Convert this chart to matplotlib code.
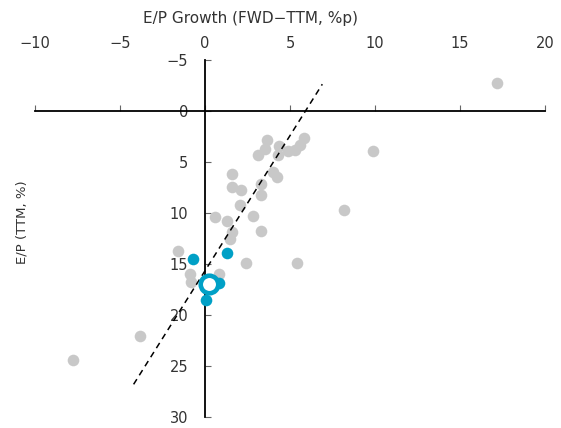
import matplotlib.pyplot as plt

# E/P growth (FWD - TTM, %p) vs trailing E/P (%)
gray_x = [17.2, 9.9, 8.2, 5.4, 2.4, 5.8, 5.6, 5.3, 4.9, 4.37, 4.3, 3.63, 3.53, 3.14,
          4.0, 4.25, 1.6, 1.6, 2.1, 3.3, 3.3, 2.06, 2.8, 0.6, 1.27, 1.6, 3.3, 1.47,
          -1.6, -0.9, -0.8, 0.8, -3.8, -7.75]
gray_y = [-2.7, 3.95, 9.7, 14.9, 14.9, 2.65, 3.4, 3.85, 3.95, 3.5, 4.3, 2.9, 3.7, 4.3,
          6.0, 6.5, 6.2, 7.5, 7.8, 7.2, 8.3, 9.2, 10.3, 10.4, 10.8, 11.9, 11.8, 12.6,
          13.7, 15.95, 16.8, 15.95, 22.05, 24.4]

blue_x = [-0.72, 1.3, 0.8, 0.06]
blue_y = [14.5, 13.9, 16.9, 18.5]

ring_x = [0.25]
ring_y = [17.0]

trend_x = [-4.2, 6.9]
trend_y = [26.8, -2.6]

x_ticks = [-10, -5, 0, 5, 10, 15, 20]
y_ticks = [-5, 0, 5, 10, 15, 20, 25, 30]

GRAY = '#C8C8C8'
BLUE = '#00A0C6'
TEXT = '#333333'

plt.rcParams['font.family'] = ['DejaVu Sans']
plt.rcParams['font.size'] = 10.5

fig = plt.figure(figsize=(5.61, 4.28), dpi=100)
ax = fig.add_axes([0.0624, 0.0257, 0.9091, 0.8348])

ax.scatter(gray_x, gray_y, s=70, color=GRAY, linewidths=0, zorder=3)
ax.plot(trend_x, trend_y, color='black', lw=1.1, ls=(0, (4, 3)), zorder=4)
ax.scatter(blue_x, blue_y, s=70, color=BLUE, linewidths=0, zorder=5)
ax.scatter(ring_x, ring_y, s=160, facecolor='white', edgecolor=BLUE,
           linewidths=3.3, zorder=6)

ax.set_xlim(-10, 20)
ax.set_ylim(30, -5)

# axes cross at the origin
for side in ['top', 'right']:
    ax.spines[side].set_visible(False)
ax.spines['bottom'].set_position(('data', 0))
ax.spines['left'].set_position(('data', 0))
for side in ['bottom', 'left']:
    ax.spines[side].set_linewidth(1.3)
    ax.spines[side].set_color('black')

ax.set_xticks(x_ticks)
ax.set_yticks(y_ticks)
ax.tick_params(axis='x', direction='in', length=4, width=0.8, color='#666666',
               labelbottom=False)
ax.tick_params(axis='y', direction='in', length=4, width=0.8, color='#666666',
               pad=12, labelcolor=TEXT)

# x tick labels sit above the plot area
top = ax.secondary_xaxis('top')
top.set_xticks(x_ticks)
top.spines['top'].set_visible(False)
top.tick_params(length=0, pad=6, labelcolor=TEXT)

ax.text(0.4216, 1.115, 'E/P Growth (FWD\u2212TTM, %p)', transform=ax.transAxes,
        ha='center', va='center', color=TEXT, fontsize=11)
ax.text(-0.026, 0.545, 'E/P (TTM, %)', transform=ax.transAxes, rotation=90,
        ha='center', va='center', color=TEXT, fontsize=9.5)

fig.savefig('out.png', dpi=100)
